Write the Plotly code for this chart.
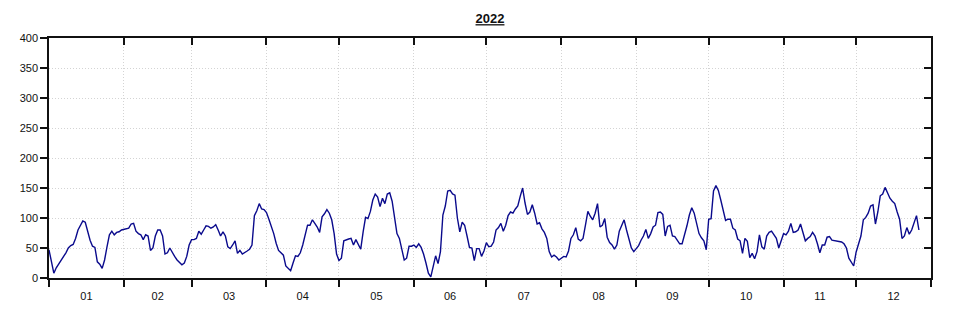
import pandas as pd
import plotly.graph_objects as go

year_title = "2022"
start_date = "2022-01-01"

jan = [47, 28, 8, 17, 23, 29, 37, 42, 50, 54, 56, 66, 80, 88, 95, 93, 78, 63, 53, 51, 27, 23, 16, 30, 52, 72, 78, 72, 76, 77, 80]
feb = [81, 81, 83, 90, 91, 78, 74, 72, 64, 72, 70, 46, 50, 70, 80, 80, 70, 40, 42, 50, 42, 36, 30, 25, 22, 25, 36, 55]
mar = [64, 64, 66, 78, 73, 80, 87, 86, 83, 85, 89, 80, 70, 77, 70, 52, 49, 55, 62, 41, 46, 40, 42, 45, 48, 55, 104, 112, 124, 115, 114]
apr = [109, 98, 86, 74, 58, 46, 42, 38, 20, 16, 12, 25, 37, 36, 42, 55, 74, 88, 88, 97, 91, 85, 76, 102, 107, 114, 108, 97, 74, 40]
may = [29, 33, 62, 64, 65, 66, 55, 64, 55, 48, 77, 101, 99, 111, 130, 140, 135, 119, 133, 124, 140, 142, 128, 100, 74, 66, 48, 30, 33, 53, 53]
jun = [55, 51, 57, 51, 40, 25, 8, 2, 20, 37, 24, 44, 105, 120, 145, 146, 140, 138, 100, 77, 93, 88, 70, 51, 50, 29, 49, 49, 36, 45]
jul = [59, 52, 53, 60, 80, 84, 91, 78, 88, 104, 110, 108, 115, 120, 136, 150, 125, 106, 110, 122, 108, 90, 92, 82, 76, 66, 44, 35, 38, 35, 30]
aug = [33, 36, 35, 45, 66, 72, 84, 65, 62, 66, 88, 111, 103, 97, 108, 124, 85, 88, 99, 68, 59, 55, 48, 55, 78, 88, 97, 80, 66, 50, 44]
sep = [49, 54, 63, 70, 81, 66, 74, 85, 88, 109, 110, 106, 70, 86, 88, 70, 69, 64, 57, 57, 70, 87, 105, 117, 108, 90, 74, 67, 62, 47]
oct_ = [98, 99, 145, 154, 146, 130, 113, 96, 98, 98, 83, 80, 65, 62, 41, 66, 61, 34, 41, 32, 44, 72, 52, 48, 70, 76, 78, 73, 66, 50, 61]
nov = [74, 72, 78, 91, 76, 77, 80, 90, 74, 62, 66, 69, 76, 70, 57, 42, 55, 55, 68, 69, 63, 62, 62, 61, 60, 57, 50, 33, 26, 20]
dec = [43, 58, 70, 97, 101, 108, 120, 122, 90, 110, 137, 140, 151, 142, 133, 128, 124, 110, 98, 66, 70, 84, 73, 80, 92, 104, 80]

values = jan + feb + mar + apr + may + jun + jul + aug + sep + oct_ + nov + dec
dates = pd.date_range(start_date, periods=len(values), freq="D")

x_range = ["2022-01-01", "2023-01-01"]
y_range = [0, 400]

fig = go.Figure()
fig.add_trace(go.Scatter(x=dates, y=values, mode="lines",
                         line=dict(color="#0a0a8c", width=1.4),
                         showlegend=False, hoverinfo="x+y"))
# invisible trace to anchor the mirrored top/right axes
fig.add_trace(go.Scatter(x=[dates[0]], y=[0], xaxis="x2", yaxis="y2",
                         mode="markers", marker=dict(opacity=0),
                         showlegend=False, hoverinfo="skip"))

font = dict(family="Liberation Sans, Arial, sans-serif", size=11, color="#111111")
grid = dict(showgrid=True, gridcolor="#d4d4d4", griddash="1px,2px", gridwidth=1)

fig.update_layout(
    width=957, height=312,
    margin=dict(l=37, r=34, t=30, b=42),
    paper_bgcolor="white", plot_bgcolor="white",
    font=font,
    title=dict(text="<b><u>" + year_title + "</u></b>", x=0.5, xanchor="center",
               xref="paper", y=0.966, yanchor="middle",
               font=dict(family="Liberation Sans, Arial, sans-serif", size=13, color="#111111")),
    xaxis=dict(type="date", range=x_range, dtick="M1", tick0="2022-01-01",
               ticklabelmode="period", tickformat="%m",
               ticks="outside", ticklen=7, tickwidth=1.5, tickcolor="#111111",
               showline=True, linecolor="#111111", linewidth=1.5,
               zeroline=False, tickfont=font, **grid),
    yaxis=dict(range=y_range, dtick=50, tick0=0,
               ticks="outside", ticklen=7, tickwidth=1.5, tickcolor="#111111",
               showline=True, linecolor="#111111", linewidth=1.5,
               zeroline=False, tickfont=font, **grid),
    xaxis2=dict(type="date", range=x_range, dtick="M1", tick0="2022-01-01",
                overlaying="x", side="top", anchor="y",
                ticks="inside", ticklen=7, tickwidth=1.5, tickcolor="#111111",
                showline=True, linecolor="#111111", linewidth=1.5,
                showticklabels=False, showgrid=False, zeroline=False),
    yaxis2=dict(range=y_range, dtick=50, tick0=0,
                overlaying="y", side="right", anchor="x",
                ticks="inside", ticklen=7, tickwidth=1.5, tickcolor="#111111",
                showline=True, linecolor="#111111", linewidth=1.5,
                showticklabels=False, showgrid=False, zeroline=False),
)

fig.write_html("out.html")
